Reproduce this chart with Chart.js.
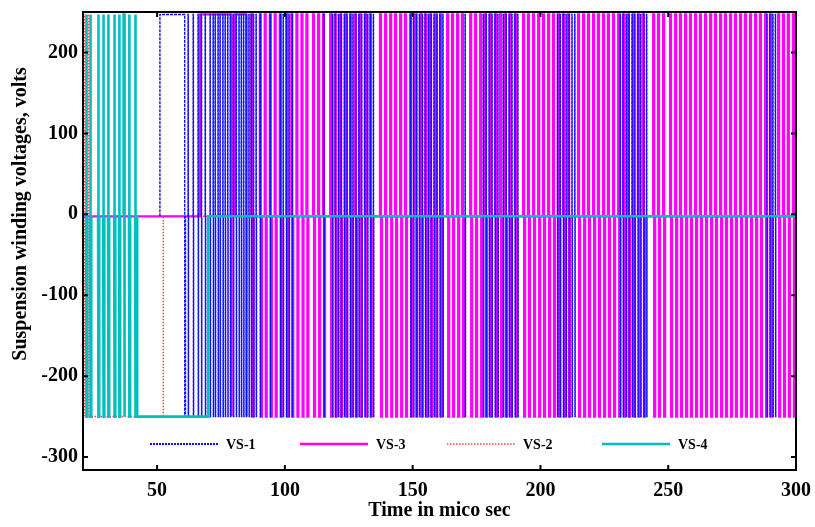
<!DOCTYPE html>
<html>
<head>
<meta charset="utf-8">
<script src="https://cdn.jsdelivr.net/npm/chart.js@4/dist/chart.umd.min.js"></script>
<style>
  html, body { margin: 0; padding: 0; background: #fff; }
  canvas { display: block; }
</style>
</head>
<body>
<canvas id="c" width="815" height="527"></canvas>
<script>
// ---------------- DATA ----------------
const seriesNames = ['VS-1', 'VS-3', 'VS-2', 'VS-4'];
const xTickValues = [50, 100, 150, 200, 250, 300];
const yTickValues = [-300, -200, -100, 0, 100, 200];
const xRange = [21, 300];
const yRange = [-316, 250];

const levelHigh = 247;
const levelZero = -2.5;
const levelLow = -250;

// VS-1 (blue, dotted): level changes and spike instants (micro s)
const vs1StepTimes  = [21, 51.1, 60.8, 61.1];
const vs1StepLevels = [levelZero, levelHigh, levelLow, levelZero];
const vs1Spikes = [
  62.1, 64.1, 66.0, 67.3, 68.8, 70.7, 71.9, 72.7, 73.8, 74.6, 75.7, 76.6, 77.6, 78.6,
  79.8, 80.9, 82.0, 82.9, 83.8, 84.8, 85.9, 86.8, 87.7, 88.7, 90.3,
  94.2, 98.2, 99.3, 100.5, 101.6, 102.8,
  115.2, 118.6, 119.7, 120.9, 122.0, 123.2, 124.3, 125.5, 126.6, 127.7, 128.9, 130.0,
  131.2, 132.3, 133.5, 134.6,
  149.2, 150.3, 151.5, 152.6, 153.8, 154.9, 156.1, 157.2, 158.3, 159.5, 160.6, 161.8,
  170.5,
  177.6, 178.7, 179.9, 181.0, 182.2, 183.3, 185.4, 186.5, 187.7, 188.8, 190.0, 191.1,
  206.6, 207.7, 208.9, 210.0, 211.2, 212.3, 213.4,
  231.2, 232.3, 233.5, 234.6, 235.8, 236.9, 238.1, 239.2, 240.4, 241.5,
  288.6, 289.7, 290.9, 291.9
];

// VS-3 (magenta, solid)
const vs3StepTimes  = [21, 66.8, 79.0, 79.3, 80.4, 84.9, 85.1];
const vs3StepLevels = [levelZero, levelHigh, levelLow, levelZero, levelHigh, levelLow, levelZero];
const vs3Spikes = [
  86.9, 90.2, 92.1, 94.1, 96.0, 98.0, 100.6, 102.5, 104.5, 106.5, 108.4, 111.0, 113.0,
  114.9, 117.7, 119.5, 121.6, 123.6, 125.5, 127.4, 129.3, 131.3, 133.2,
  137.2, 139.2, 141.2, 143.1, 145.1, 147.0, 149.0, 151.0, 153.0, 154.9, 156.8, 158.8,
  160.7, 163.5, 165.4, 167.4, 169.3, 172.5, 174.4, 176.4, 178.3, 180.2, 182.2, 184.2,
  186.1, 188.0, 190.0, 193.2, 195.1, 197.1, 199.1, 201.0, 203.0, 204.9, 206.9, 208.8,
  210.8, 214.7, 216.7, 218.6, 220.6, 222.5, 224.5, 226.4, 228.4, 230.4, 232.3, 234.2,
  236.2, 238.1, 240.1, 244.1, 246.0, 248.0, 250.7, 252.7, 254.6, 256.6, 258.5, 260.5,
  262.4, 264.4, 266.4, 268.3, 270.3, 272.2, 274.2, 276.1, 278.1, 280.0, 282.0, 284.0,
  285.9, 287.9, 289.8, 293.0, 294.9, 296.8, 298.8
];

// VS-2 (red, dotted)
const vs2StepTimes  = [21, 21.6, 52.4];
const vs2StepLevels = [levelHigh, levelLow, levelZero];
const vs2Spikes = [22.9];

// VS-4 (cyan, solid)
const vs4StepTimes  = [21, 42.2, 70.0];
const vs4StepLevels = [levelZero, levelLow, levelZero];
const vs4Spikes = [22.2, 23.8, 26.9, 28.9, 30.8, 33.2, 35.1, 36.9, 39.0, 41.4];

// ---------------- BUILD POINT TABLES ----------------
function buildSeries(stepTimes, stepLevels, spikes, w) {
  const events = [];
  stepTimes.forEach((t, i) => events.push({ t, step: true, level: stepLevels[i] }));
  spikes.forEach(t => events.push({ t, step: false }));
  events.sort((a, b) => a.t - b.t || (a.step ? -1 : 1));
  const pts = [];
  let level = null;
  for (const e of events) {
    if (e.step) {
      if (level !== null) pts.push({ x: e.t, y: level });
      level = e.level;
      pts.push({ x: e.t, y: level });
    } else {
      pts.push({ x: e.t, y: level });
      pts.push({ x: e.t, y: levelHigh });
      pts.push({ x: e.t + w, y: levelHigh });
      pts.push({ x: e.t + w, y: levelLow });
      pts.push({ x: e.t + 2 * w, y: levelLow });
      pts.push({ x: e.t + 2 * w, y: level });
    }
  }
  pts.push({ x: xRange[1], y: level });
  return pts;
}

const vs1Data = buildSeries(vs1StepTimes, vs1StepLevels, vs1Spikes, 0.1);
const vs3Data = buildSeries(vs3StepTimes, vs3StepLevels, vs3Spikes, 0.4);
const vs2Data = buildSeries(vs2StepTimes, vs2StepLevels, vs2Spikes, 0.2);
const vs4Data = buildSeries(vs4StepTimes, vs4StepLevels, vs4Spikes, 0.22);

const colBlue = '#1010ff';
const colMag = '#ff00ff';
const colRed = '#ff4040';
const colCyan = '#00bfbf';
const FONT = "'Liberation Serif', 'Times New Roman', serif";
const CLEAR = 'rgba(0,0,0,0)';

// legend + frame + y title plugin
const framePlugin = {
  id: 'frame',
  afterDatasetsDraw(chart) {
    const { ctx, chartArea: a, scales } = chart;
    ctx.save();
    ctx.strokeStyle = '#000';
    ctx.lineWidth = 2;
    ctx.setLineDash([]);
    ctx.strokeRect(a.left, a.top, a.right - a.left, a.bottom - a.top);
    const tl = 5;
    ctx.beginPath();
    xTickValues.forEach(v => {
      const px = scales.x.getPixelForValue(v);
      ctx.moveTo(px, a.bottom); ctx.lineTo(px, a.bottom - tl);
      ctx.moveTo(px, a.top); ctx.lineTo(px, a.top + tl);
    });
    yTickValues.forEach(v => {
      const py = scales.y.getPixelForValue(v);
      ctx.moveTo(a.left, py); ctx.lineTo(a.left + tl, py);
      ctx.moveTo(a.right, py); ctx.lineTo(a.right - tl, py);
    });
    ctx.stroke();

    // legend inside plot
    const legendY = 444;
    const starts = [150, 300, 447, 602];
    const styles = [
      { c: colBlue, w: 2, d: [2, 1] },
      { c: colMag, w: 2.5, d: [] },
      { c: colRed, w: 1.5, d: [1.5, 1.5] },
      { c: colCyan, w: 2.5, d: [] }
    ];
    ctx.font = `bold 14px ${FONT}`;
    ctx.textBaseline = 'middle';
    ctx.textAlign = 'left';
    seriesNames.forEach((name, i) => {
      const s = styles[i];
      ctx.beginPath();
      ctx.strokeStyle = s.c;
      ctx.lineWidth = s.w;
      ctx.setLineDash(s.d);
      ctx.moveTo(starts[i], legendY);
      ctx.lineTo(starts[i] + 68, legendY);
      ctx.stroke();
      ctx.setLineDash([]);
      ctx.fillStyle = '#000';
      ctx.fillText(name, starts[i] + 76, legendY + 1);
    });

    // y-axis title
    ctx.translate(21, 214);
    ctx.rotate(-Math.PI / 2);
    ctx.font = `bold 20px ${FONT}`;
    ctx.textAlign = 'center';
    ctx.textBaseline = 'middle';
    ctx.fillStyle = '#000';
    ctx.fillText('Suspension winding voltages, volts', 0, 0);
    ctx.restore();
  }
};

const common = { pointRadius: 0, fill: false, tension: 0, borderJoinStyle: 'miter' };
const flatZero = ctx => ctx.p0.parsed.y === levelZero && ctx.p1.parsed.y === levelZero;

new Chart(document.getElementById('c'), {
  type: 'line',
  data: {
    datasets: [
      Object.assign({
        label: seriesNames[3], data: vs4Data, borderColor: colCyan, borderWidth: 2.6,
        segment: {
          borderColor: ctx => (ctx.p1.parsed.x <= vs4StepTimes[1] && flatZero(ctx)) ? CLEAR : undefined
        }
      }, common),
      Object.assign({
        label: seriesNames[0], data: vs1Data, borderColor: colBlue, borderWidth: 1.4, borderDash: [3, 1],
        segment: { borderColor: ctx => flatZero(ctx) ? CLEAR : undefined }
      }, common),
      Object.assign({ label: seriesNames[1], data: vs3Data, borderColor: colMag, borderWidth: 2.2 }, common),
      Object.assign({ label: seriesNames[2], data: vs2Data, borderColor: colRed, borderWidth: 1.5, borderDash: [1.5, 1.5] }, common)
    ]
  },
  options: {
    responsive: false,
    animation: false,
    devicePixelRatio: 1,
    parsing: false,
    normalized: true,
    layout: { padding: { top: 12, right: 19, left: 0, bottom: 0 } },
    plugins: { legend: { display: false }, tooltip: { enabled: false } },
    scales: {
      x: {
        type: 'linear', min: xRange[0], max: xRange[1],
        afterBuildTicks: ax => { ax.ticks = xTickValues.map(v => ({ value: v })); },
        afterFit: ax => { ax.height = 57; ax.paddingLeft = 0; ax.paddingRight = 0; },
        grid: { display: false, drawTicks: false },
        border: { display: false },
        ticks: { color: '#000', padding: 9, maxRotation: 0, autoSkip: false,
                 font: { family: FONT, size: 20, weight: 'bold' } },
        title: { display: true, text: 'Time in mico sec', color: '#000',
                 padding: { top: 0, bottom: 4 },
                 font: { family: FONT, size: 20, weight: 'bold' } }
      },
      y: {
        type: 'linear', min: yRange[0], max: yRange[1],
        afterBuildTicks: ax => { ax.ticks = yTickValues.map(v => ({ value: v })); },
        afterFit: ax => { ax.width = 83; ax.paddingTop = 0; ax.paddingBottom = 0; },
        grid: { display: false, drawTicks: false },
        border: { display: false },
        ticks: { color: '#000', padding: 5, autoSkip: false,
                 font: { family: FONT, size: 20, weight: 'bold' } }
      }
    }
  },
  plugins: [framePlugin]
});
</script>
</body>
</html>
